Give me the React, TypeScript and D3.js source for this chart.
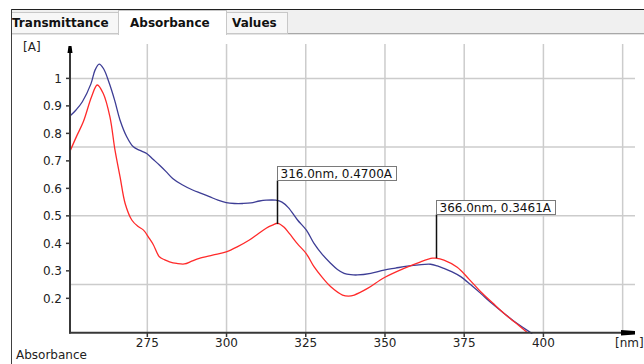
import * as d3 from "d3";

// blue trace (wavelength nm, absorbance A)
const blueNm = [250.6, 252.5, 254.5, 257.2, 258.5, 259.8, 261.2, 263.0, 264.7, 266.4, 268.5, 270.6, 272.7, 274.8, 276.8, 278.8, 281.0, 283.0, 286.0, 289.3, 292.0, 294.6, 297.3, 299.9, 302.5, 305.1, 307.7, 310.4, 312.5, 315.5, 317.5, 319.5, 322.4, 325.2, 327.6, 330.2, 332.9, 335.0, 337.1, 339.2, 341.3, 345.5, 349.7, 353.3, 357.0, 360.7, 364.4, 366.5, 368.6, 371.2, 373.9, 377.0, 380.2, 383.9, 387.6, 391.5, 395.5, 396.5];
const blueAbs = [0.863, 0.885, 0.915, 0.98, 1.03, 1.052, 1.035, 0.982, 0.92, 0.848, 0.788, 0.751, 0.738, 0.727, 0.706, 0.685, 0.66, 0.636, 0.613, 0.594, 0.582, 0.57, 0.557, 0.548, 0.545, 0.545, 0.547, 0.554, 0.557, 0.557, 0.55, 0.53, 0.485, 0.448, 0.4, 0.36, 0.327, 0.305, 0.291, 0.286, 0.285, 0.291, 0.303, 0.31, 0.317, 0.322, 0.324, 0.318, 0.309, 0.296, 0.279, 0.25, 0.218, 0.18, 0.145, 0.11, 0.079, 0.072];

// red trace
const redNm = [250.6, 252.7, 254.8, 257.4, 259.2, 261.1, 263.2, 264.8, 266.4, 268.0, 270.1, 272.0, 273.8, 275.5, 276.9, 278.8, 280.5, 282.0, 284.3, 286.7, 289.0, 291.4, 295.6, 299.9, 303.5, 307.2, 310.0, 312.5, 314.5, 316.2, 318.0, 319.8, 322.4, 325.2, 327.6, 330.2, 332.9, 336.6, 338.5, 340.3, 344.5, 349.7, 356.0, 361.3, 365.0, 366.0, 368.6, 372.8, 376.5, 380.2, 384.0, 387.6, 391.3, 395.0];
const redAbs = [0.735, 0.79, 0.842, 0.933, 0.976, 0.945, 0.86, 0.739, 0.642, 0.545, 0.485, 0.462, 0.448, 0.42, 0.395, 0.351, 0.34, 0.333, 0.327, 0.325, 0.335, 0.345, 0.357, 0.369, 0.388, 0.412, 0.435, 0.455, 0.466, 0.473, 0.46, 0.436, 0.398, 0.362, 0.315, 0.276, 0.242, 0.212, 0.208, 0.212, 0.236, 0.275, 0.309, 0.333, 0.346, 0.3461, 0.339, 0.313, 0.27, 0.224, 0.183, 0.145, 0.11, 0.075];

const xTicks = [275, 300, 325, 350, 375, 400];
const xGrid = [275, 300, 325, 350, 375, 400, 425];
const yTicks = [0.2, 0.3, 0.4, 0.5, 0.6, 0.7, 0.8, 0.9, 1];
const yGrid = [0.25, 0.5, 0.75, 1];

const peakNm = [316, 366];
const peakAbs = [0.47, 0.3461];
const peakLabels = ["316.0nm, 0.4700A", "366.0nm, 0.3461A"];

const tabNames = ["Transmittance", "Absorbance", "Values"];
const tabEdges = [11, 118, 226, 287];

const W = 644;
const H = 364;
const font = "DejaVu Sans, Verdana, sans-serif";

export default function App() {
  const x = d3.scaleLinear().domain([250.6, 428.9]).range([70, 635]);
  const y = d3.scaleLinear().domain([0.075, 1.124]).range([332.7, 44.3]);

  const line = d3
    .line<[number, number]>()
    .x((d) => x(d[0]))
    .y((d) => y(d[1]))
    .curve(d3.curveCatmullRom.alpha(0.5));

  const blue = blueNm.map((n, i) => [n, blueAbs[i]] as [number, number]);
  const red = redNm.map((n, i) => [n, redAbs[i]] as [number, number]);

  return (
    <svg
      width={W}
      height={H}
      style={{ position: "absolute", left: 0, top: 0, background: "#fff" }}
      fontFamily={font}
      fontSize={12}
    >
      {/* tab bar */}
      <rect x={11} y={10} width={W - 11} height={23} fill="#f0f0f0" />
      <line x1={11} x2={W} y1={9.5} y2={9.5} stroke="#202020" />
      <line x1={11} x2={W} y1={33.5} y2={33.5} stroke="#a8a8a8" />
      <line x1={11} x2={W} y1={34.5} y2={34.5} stroke="#e4e4e4" />
      {tabNames.map((t, i) => {
        const sel = i === 1;
        return (
          <g key={t}>
            <rect
              x={tabEdges[i] + 0.5}
              y={sel ? 10.5 : 12.5}
              width={tabEdges[i + 1] - tabEdges[i]}
              height={sel ? 24 : 21}
              fill={sel ? "#fff" : "#f7f7f7"}
              stroke="#c8c8c8"
            />
            {sel && <rect x={tabEdges[i] + 1} y={33} width={tabEdges[i + 1] - tabEdges[i] - 1} height={3} fill="#fff" />}
            <text x={tabEdges[i] + (i === 0 ? 1 : i === 1 ? 12 : 6)} y={26.5} fontWeight="bold" fill="#111">
              {t}
            </text>
          </g>
        );
      })}
      <line x1={11.5} x2={11.5} y1={9} y2={H} stroke="#404040" />

      {/* grid */}
      {xGrid.map((v) => (
        <line key={"gx" + v} x1={x(v)} x2={x(v)} y1={44} y2={333} stroke="#cccccc" strokeWidth={1.5} />
      ))}
      {yGrid.map((v) => (
        <line key={"gy" + v} x1={70} x2={635} y1={y(v)} y2={y(v)} stroke="#cccccc" strokeWidth={1.5} />
      ))}

      {/* traces */}
      <path d={line(blue) ?? ""} fill="none" stroke="#3d3d95" strokeWidth={1.3} />
      <path d={line(red) ?? ""} fill="none" stroke="#ff2a2a" strokeWidth={1.3} />

      {/* axes */}
      <line x1={70} x2={70} y1={46} y2={333.5} stroke="#383838" strokeWidth={2} />
      <path d="M67.5,53 L68.5,46 L71.5,46 L72.5,53 Z" fill="#000" />
      <line x1={69} x2={632} y1={332.7} y2={332.7} stroke="#383838" strokeWidth={2} />
      <path d="M621,330 L635,331 L635,334.5 L621,335.5 Z" fill="#000" />
      {yTicks.map((v) => (
        <g key={"yt" + v}>
          <line x1={66} x2={70} y1={y(v)} y2={y(v)} stroke="#383838" strokeWidth={1.5} />
          <text x={62} y={y(v)} dy="0.36em" textAnchor="end" fill="#222">
            {d3.format("~g")(v)}
          </text>
        </g>
      ))}
      {xTicks.map((v) => (
        <g key={"xt" + v}>
          <line x1={x(v)} x2={x(v)} y1={333} y2={337} stroke="#383838" strokeWidth={1.5} />
          <text x={x(v)} y={346.5} textAnchor="middle" fill="#222">
            {v}
          </text>
        </g>
      ))}
      <text x={615} y={346.5} fill="#222">[nm]</text>
      <text x={23} y={51} fill="#222">[A]</text>
      <text x={16} y={358.5} fill="#222">Absorbance</text>

      {/* peak labels */}
      {peakNm.map((n, i) => {
        const px = Math.round(x(n)) + 0.5;
        const py = y(peakAbs[i]);
        const top = Math.round(py - 58) + 0.5;
        return (
          <g key={"pk" + i}>
            <line x1={px} x2={px} y1={top + 14} y2={py} stroke="#111" strokeWidth={1.5} />
            <rect x={px} y={top} width={119} height={14} fill="#fff" stroke="#7a7a7a" />
            <text x={px + 3} y={top + 11.5} fill="#111">
              {peakLabels[i]}
            </text>
          </g>
        );
      })}
    </svg>
  );
}
